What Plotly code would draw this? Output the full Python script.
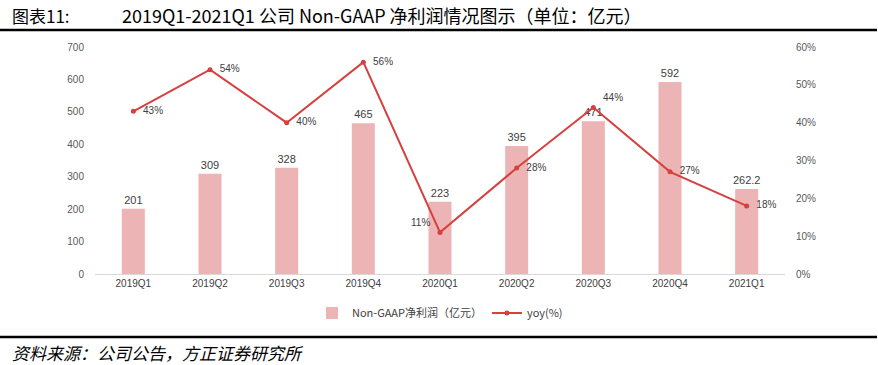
import plotly.graph_objects as go

categories = ["2019Q1", "2019Q2", "2019Q3", "2019Q4", "2020Q1", "2020Q2", "2020Q3", "2020Q4", "2021Q1"]
profit = [201, 309, 328, 465, 223, 395, 471, 592, 262.2]
profit_labels = ["201", "309", "328", "465", "223", "395", "471", "592", "262.2"]
yoy = [43, 54, 40, 56, 11, 28, 44, 27, 18]
yoy_labels = ["43%", "54%", "40%", "56%", "11%", "28%", "44%", "27%", "18%"]
yoy_pos = ["middle right", "middle right", "middle right", "middle right", "top left",
           "middle right", "top right", "middle right", "middle right"]

W, H = 878, 365
L, R, T, B = 95, 93, 47, 91
pw, ph = W - L - R, H - T - B

def px(x):
    return (x - L) / pw

def py(y):
    return (H - B - y) / ph

font_main = "Noto Sans CJK SC, Arial, sans-serif"
bar_color = "#ECB4B4"
line_color = "#D6403F"
NB = "\u00a0"
yoy_tmpl = [("%{text}" + NB * 2) if "left" in p else (NB * 2 + "%{text}") for p in yoy_pos]

fig = go.Figure()
fig.add_trace(go.Bar(
    x=categories, y=profit, name="Non-GAAP净利润（亿元）",
    marker=dict(color=bar_color, line=dict(width=0)),
    text=profit_labels, textposition="outside", cliponaxis=False, constraintext="none",
    textfont=dict(size=11, color="#404040", family="Arial"),
    width=0.3, yaxis="y",
))
fig.add_trace(go.Scatter(
    x=categories, y=yoy, name="yoy(%)", mode="lines+markers+text",
    line=dict(color=line_color, width=2), marker=dict(color=line_color, size=5),
    text=yoy_labels, texttemplate=yoy_tmpl, textposition=yoy_pos, cliponaxis=False,
    textfont=dict(size=10, color="#404040", family="Arial"),
    yaxis="y2",
))

fig.update_layout(
    width=W, height=H,
    margin=dict(l=L, r=R, t=T, b=B),
    paper_bgcolor="white", plot_bgcolor="white",
    showlegend=True,
    legend=dict(orientation="h", x=px(440), xanchor="center", y=py(313), yanchor="middle",
                font=dict(size=11, color="#404040", family=font_main),
                bgcolor="rgba(0,0,0,0)", itemwidth=30, traceorder="normal"),
    xaxis=dict(type="category", showgrid=False, showline=True, linecolor="#D9D9D9", linewidth=1,
               ticks="", tickfont=dict(size=10, color="#404040", family="Arial")),
    yaxis=dict(range=[0, 700], dtick=100, showgrid=False, zeroline=False, showline=False,
               tickfont=dict(size=10, color="#595959", family="Arial"), ticklen=8, ticks="outside",
               tickcolor="rgba(0,0,0,0)"),
    yaxis2=dict(range=[0, 60], dtick=10, overlaying="y", side="right", showgrid=False,
                zeroline=False, showline=False, ticksuffix="%",
                tickfont=dict(size=10, color="#595959", family="Arial"), ticks="outside",
                ticklen=8, tickcolor="rgba(0,0,0,0)"),
    font=dict(family=font_main),
)

# decorative rules
fig.add_shape(type="line", xref="paper", yref="paper", x0=px(0), x1=px(877), y0=py(30), y1=py(30),
              line=dict(color="black", width=2.5))
fig.add_shape(type="line", xref="paper", yref="paper", x0=px(0), x1=px(877), y0=py(337), y1=py(337),
              line=dict(color="black", width=2.5))

fig.add_annotation(xref="paper", yref="paper", x=px(10), y=py(15), xanchor="left", yanchor="middle",
                   text="图表11:", showarrow=False,
                   font=dict(size=17, color="black", family=font_main))
fig.add_annotation(xref="paper", yref="paper", x=px(120), y=py(15), xanchor="left", yanchor="middle",
                   text="2019Q1-2021Q1 公司 Non-GAAP 净利润情况图示（单位：亿元）", showarrow=False,
                   font=dict(size=18, color="black", family=font_main))
fig.add_annotation(xref="paper", yref="paper", x=px(10), y=py(352), xanchor="left", yanchor="middle",
                   text="<i>资料来源：公司公告，方正证券研究所</i>", showarrow=False,
                   font=dict(size=17, color="black", family=font_main))

fig.write_html("out.html", config={"displayModeBar": False},
               post_script="document.body.style.margin='0';document.body.style.padding='0';")
